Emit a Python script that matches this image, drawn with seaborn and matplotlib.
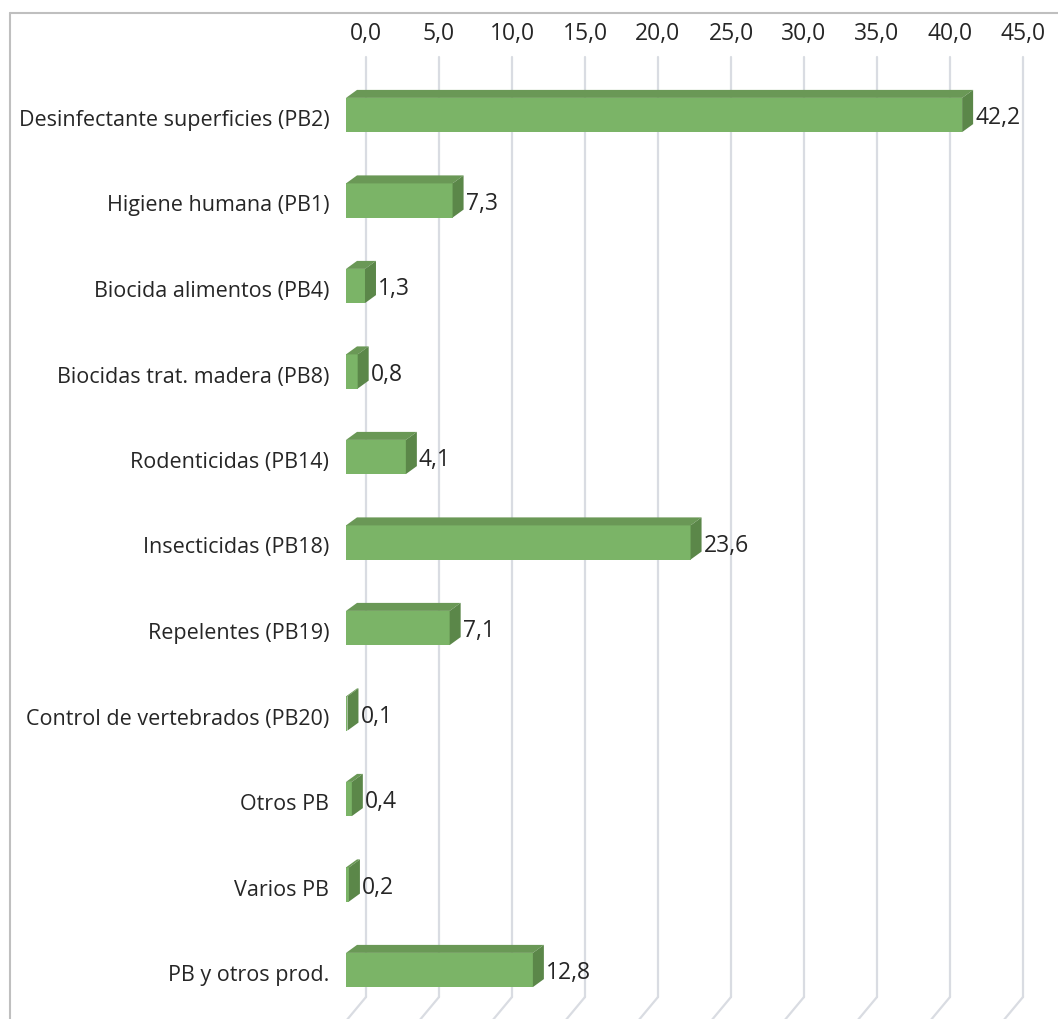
import numpy as np
import pandas as pd
import matplotlib.pyplot as plt
import seaborn as sns
from matplotlib.patches import Polygon
from matplotlib.lines import Line2D
from matplotlib.transforms import ScaledTranslation

# data
categorias = ['Desinfectante superficies (PB2)', 'Higiene humana (PB1)', 'Biocida alimentos (PB4)',
              'Biocidas trat. madera (PB8)', 'Rodenticidas (PB14)', 'Insecticidas (PB18)',
              'Repelentes (PB19)', 'Control de vertebrados (PB20)', 'Otros PB', 'Varios PB',
              'PB y otros prod.']
valores = [42.2, 7.3, 1.3, 0.8, 4.1, 23.6, 7.1, 0.1, 0.4, 0.2, 12.8]
ticks = [0, 5, 10, 15, 20, 25, 30, 35, 40, 45]

df = pd.DataFrame({'categoria': categorias, 'valor': valores})

sns.set_theme(style='white')
plt.rcParams['font.family'] = ['Open Sans', 'DejaVu Sans']

W, H = 1058, 1019
fig = plt.figure(figsize=(W / 100, H / 100), dpi=100)

# pixel geometry of the front plane
px_x = 14.6      # pixels per unit on x
px_y = 85.5      # pixels per category
x0_px = 346      # value 0
y0_px = 115      # centre of first bar
ax = fig.add_axes([x0_px / W, 1 - (y0_px + 10.5 * px_y) / H,
                   45 * px_x / W, 11 * px_y / H])

front, top, side = '#7bb467', '#6a9856', '#5b8749'
txt = '#262626'
fs_num = 16.5
fs_cat = 15.5

sns.barplot(data=df, x='valor', y='categoria', orient='h', color=front, saturation=1,
            width=0.4, linewidth=0, ax=ax, zorder=3)
ax.set_xlim(0, 45)
ax.set_ylim(10.5, -0.5)

# 3d look: depth of bars and back wall, in data units
bdx, bdy = 11 / px_x, 8 / px_y
wdx = 20 / px_x
y_top = (57 - y0_px) / px_y
y_wall = (997 - y0_px) / px_y
y_floor = (1021 - y0_px) / px_y

for t in ticks:
    ax.plot([t + wdx, t + wdx], [y_top, y_wall], color='#d9dce2', lw=1.6, zorder=0.5, clip_on=False)
    ax.plot([t + wdx, t], [y_wall, y_floor], color='#d9dce2', lw=1.6, zorder=0.5, clip_on=False)
    ax.text(t + wdx, (34 - y0_px) / px_y, f'{t:.1f}'.replace('.', ','), ha='center', va='center',
            fontsize=fs_num, color=txt, clip_on=False)

for p in list(ax.patches):
    x0, yb = p.get_x(), p.get_y()
    w, h = p.get_width(), p.get_height()
    x1, yt, ybot = x0 + w, yb, yb + h
    ax.add_patch(Polygon([(x0, yt), (x1, yt), (x1 + bdx, yt - bdy), (x0 + bdx, yt - bdy)],
                         closed=True, facecolor=top, edgecolor='none', zorder=3))
    ax.add_patch(Polygon([(x1, yt), (x1 + bdx, yt - bdy), (x1 + bdx, ybot - bdy), (x1, ybot)],
                         closed=True, facecolor=side, edgecolor='none', zorder=3))

for i, v in enumerate(valores):
    ax.text(v + bdx + 2 / px_x, i + 0.04, f'{v:.1f}'.replace('.', ','), ha='left', va='center',
            fontsize=fs_num, color=txt, zorder=4)

ax.set_xticks([])
ax.set_yticks(range(len(categorias)))
ax.set_yticklabels(categorias, fontsize=fs_cat, color=txt)
ax.tick_params(axis='y', length=0, pad=12)
# labels sit a little below the bar centre in the original
shift = ScaledTranslation(0, -0.03, fig.dpi_scale_trans)
for lbl in ax.get_yticklabels():
    lbl.set_transform(lbl.get_transform() + shift)
ax.set_xlabel('')
ax.set_ylabel('')
for s in ax.spines.values():
    s.set_visible(False)
ax.patch.set_alpha(0)

# chart area border (top and left visible)
fig.add_artist(Line2D([9.5 / W, 1], [1 - 12.5 / H, 1 - 12.5 / H], color='#bfbfbf', lw=1.5))
fig.add_artist(Line2D([9.5 / W, 9.5 / W], [0, 1 - 12.5 / H], color='#bfbfbf', lw=1.5))

fig.savefig('out.png', dpi=100)
